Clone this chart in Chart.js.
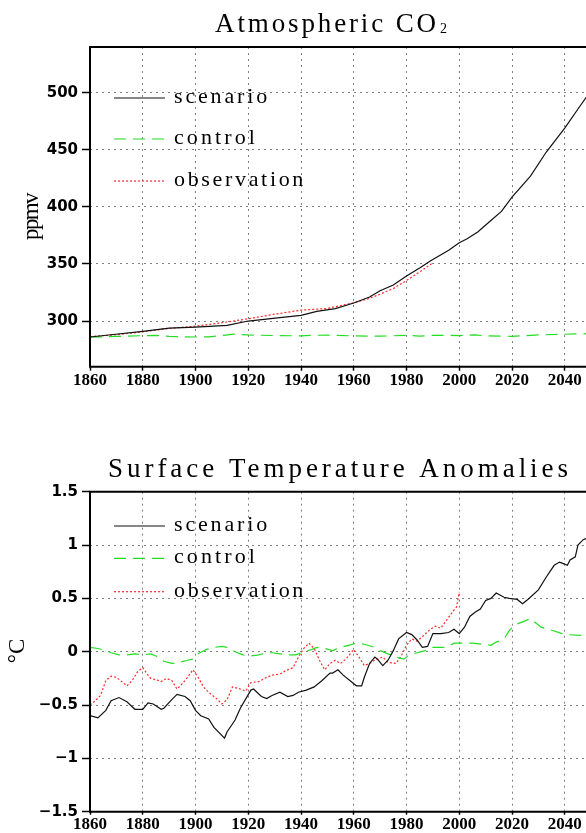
<!DOCTYPE html>
<html>
<head>
<meta charset="utf-8">
<script src="https://cdn.jsdelivr.net/npm/chart.js@4.4.1/dist/chart.umd.min.js"></script>
<style>
  html, body { margin: 0; padding: 0; background: #fff; overflow: hidden; width: 586px; height: 833px; }
  canvas { position: absolute; left: 0; }
  #co2 { top: 0; }
  #temp { top: 440px; }
</style>
</head>
<body>
<canvas id="co2" width="760" height="400"></canvas>
<canvas id="temp" width="760" height="393"></canvas>
<script>
// x axis (years), shared by both panels
const yearTicks = [1860, 1880, 1900, 1920, 1940, 1960, 1980, 2000, 2020, 2040, 2060, 2080, 2100];

// --- Atmospheric CO2 (ppmv) ---
const co2Ticks = [300, 350, 400, 450, 500];
const co2ScenarioYears = [1860, 1868, 1880, 1890, 1900, 1912, 1920, 1932, 1940, 1946,
  1953, 1960, 1966, 1970, 1975, 1980, 1985, 1989, 1996, 2000,
  2003, 2007, 2012, 2016, 2020, 2027, 2033, 2040, 2046, 2050];
const co2Scenario = [286, 288, 291, 293.8, 294.7, 296.2, 300, 302.9, 305, 308.5,
  310.8, 315.8, 321, 326.5, 331.5, 339.5, 346.5, 352.6, 362, 368.5,
  372, 378, 388, 396, 408.5, 427, 448, 469, 489, 502];
const co2ControlYears = [1860, 1870, 1880, 1885, 1890, 1900, 1905, 1915, 1920, 1930,
  1940, 1945, 1950, 1960, 1970, 1980, 1985, 1990, 2000, 2006,
  2010, 2020, 2030, 2040, 2050];
const co2Control = [285.8, 286.5, 287.2, 287.5, 286.5, 286, 286.2, 288.5, 287.8, 287.3,
  287, 287.5, 287.6, 287, 286.7, 287.5, 286.8, 287.5, 287.3, 287.8,
  287, 286.6, 287.8, 288.4, 289];
const co2ObsYears = [1860, 1870, 1880, 1890, 1900, 1910, 1920, 1930, 1940, 1950,
  1960, 1965, 1970, 1975, 1980, 1985, 1990];
const co2Obs = [286.4, 288, 290.5, 293.5, 295.5, 298.5, 302, 306, 309.5, 311,
  316, 319, 323.5, 328.5, 335.5, 343, 351];

// --- Surface temperature anomalies (degC) ---
const tempTicks = [-1.5, -1, -0.5, 0, 0.5, 1, 1.5];
const tempScenarioYears = [1860, 1863, 1866, 1868, 1871, 1874, 1877, 1880, 1882, 1884,
  1887, 1888, 1891, 1893, 1896, 1898, 1900, 1902, 1905, 1907,
  1911, 1912, 1915, 1917, 1921, 1922, 1925, 1927, 1929, 1932,
  1935, 1937, 1939, 1942, 1945, 1948, 1951, 1952, 1954, 1956,
  1959, 1961, 1963, 1964, 1966, 1968, 1969, 1971, 1973, 1975,
  1977, 1980, 1982, 1984, 1986, 1988, 1990, 1993, 1996, 1998,
  2000, 2002, 2004, 2006, 2008, 2010, 2012, 2014, 2017, 2019,
  2022, 2024, 2026, 2030, 2033, 2036, 2038, 2039, 2041, 2042,
  2044, 2045, 2047, 2048, 2050];
const tempScenario = [-0.60, -0.62, -0.55, -0.46, -0.43, -0.47, -0.54, -0.54, -0.48, -0.49,
  -0.54, -0.53, -0.45, -0.40, -0.42, -0.46, -0.55, -0.60, -0.63, -0.71,
  -0.81, -0.75, -0.64, -0.53, -0.36, -0.35, -0.42, -0.44, -0.41, -0.38,
  -0.42, -0.41, -0.38, -0.36, -0.33, -0.27, -0.20, -0.20, -0.17, -0.22,
  -0.28, -0.32, -0.32, -0.24, -0.11, -0.05, -0.07, -0.13, -0.08, 0.01,
  0.12, 0.18, 0.16, 0.11, 0.04, 0.05, 0.17, 0.17, 0.18, 0.21,
  0.17, 0.23, 0.33, 0.37, 0.40, 0.48, 0.50, 0.55, 0.51, 0.50,
  0.49, 0.45, 0.49, 0.58, 0.70, 0.81, 0.84, 0.83, 0.81, 0.86,
  0.89, 1.00, 1.05, 1.06, 1.07];
const tempControlYears = [1860, 1863, 1866, 1868, 1871, 1874, 1877, 1880, 1883, 1885,
  1888, 1891, 1894, 1897, 1899, 1901, 1904, 1907, 1910, 1912,
  1915, 1918, 1921, 1924, 1927, 1929, 1932, 1935, 1938, 1941,
  1944, 1946, 1949, 1952, 1955, 1958, 1961, 1964, 1968, 1970,
  1973, 1976, 1979, 1981, 1984, 1987, 1990, 1995, 1998, 2002,
  2005, 2009, 2012, 2014, 2017, 2019, 2021, 2024, 2027, 2031,
  2034, 2039, 2041, 2048, 2050];
const tempControl = [0.04, 0.03, 0.01, -0.01, -0.03, -0.03, -0.02, -0.03, -0.02, -0.04,
  -0.09, -0.11, -0.10, -0.08, -0.07, -0.02, 0.02, 0.04, 0.05, 0.04,
  0.00, -0.03, -0.04, -0.03, -0.01, -0.01, -0.02, -0.03, -0.03, 0.00,
  0.02, 0.04, 0.03, 0.01, 0.04, 0.06, 0.08, 0.07, 0.04, 0.01,
  -0.02, -0.05, -0.07, -0.03, -0.01, 0.01, 0.04, 0.04, 0.08, 0.08,
  0.08, 0.07, 0.06, 0.09, 0.12, 0.20, 0.25, 0.28, 0.31, 0.23,
  0.21, 0.17, 0.16, 0.15, 0.15];
const tempObsYears = [1860, 1862, 1864, 1866, 1868, 1870, 1872, 1874, 1876, 1878,
  1880, 1882, 1883, 1886, 1887, 1889, 1891, 1893, 1895, 1897,
  1899, 1901, 1903, 1905, 1908, 1910, 1912, 1914, 1917, 1919,
  1921, 1924, 1927, 1929, 1932, 1934, 1937, 1939, 1941, 1943,
  1945, 1947, 1949, 1951, 1953, 1955, 1957, 1960, 1962, 1964,
  1966, 1968, 1971, 1973, 1976, 1978, 1980, 1982, 1984, 1986,
  1989, 1991, 1993, 1995, 1998, 1999, 2000];
const tempObs = [-0.50, -0.46, -0.41, -0.27, -0.23, -0.24, -0.28, -0.32, -0.27, -0.19,
  -0.15, -0.22, -0.25, -0.27, -0.28, -0.25, -0.27, -0.35, -0.30, -0.24,
  -0.17, -0.24, -0.33, -0.38, -0.44, -0.49, -0.45, -0.33, -0.35, -0.37,
  -0.29, -0.28, -0.24, -0.22, -0.21, -0.18, -0.15, -0.05, 0.03, 0.08,
  0.03, -0.08, -0.17, -0.11, -0.08, -0.11, -0.07, 0.02, -0.05, -0.13,
  -0.11, -0.08, -0.05, -0.10, -0.11, -0.04, 0.06, 0.12, 0.10, 0.14,
  0.21, 0.24, 0.22, 0.29, 0.39, 0.42, 0.56];

const SERIF = "'Liberation Serif', 'DejaVu Serif', serif";

function series(label, years, values, color, dash) {
  return {
    label: label,
    data: years.map((x, i) => ({ x: x, y: values[i] })),
    borderColor: color,
    borderWidth: 1.2,
    borderDash: dash,
    pointRadius: 0,
    fill: false,
    tension: 0
  };
}

// serif text stretched to a fixed character pitch, like the plotting package's font
function spaced(ctx, text, x, y, pitch) {
  ctx.letterSpacing = "0px";
  const w = ctx.measureText(text).width;
  ctx.letterSpacing = ((pitch * text.length - w) / text.length) + "px";
  ctx.fillText(text, x, y);
  ctx.letterSpacing = "0px";
  return pitch * text.length;
}

// frame, title, y title and in-plot legend
const decor = {
  id: "decor",
  afterDraw(chart, args, o) {
    const ctx = chart.ctx;
    const a = chart.chartArea;
    ctx.save();
    ctx.setLineDash([]);
    ctx.strokeStyle = "#000";
    ctx.lineWidth = 2;
    ctx.beginPath();
    ctx.moveTo(a.right, a.top);
    ctx.lineTo(a.left, a.top);
    ctx.lineTo(a.left, a.bottom);
    ctx.lineTo(a.right, a.bottom);
    ctx.stroke();

    ctx.fillStyle = "#000";
    ctx.textAlign = "left";
    ctx.textBaseline = "alphabetic";
    ctx.font = "27px " + SERIF;
    const tw = spaced(ctx, o.title, o.titleX, o.titleY, 16);
    if (o.sub) {
      ctx.font = "14px " + SERIF;
      ctx.fillText(o.sub, o.titleX + tw + 1, o.titleY + 1);
    }

    ctx.save();
    ctx.translate(o.yTitleX, o.yTitleY);
    ctx.rotate(-Math.PI / 2);
    ctx.font = "23px " + SERIF;
    ctx.textBaseline = "middle";
    ctx.letterSpacing = "0px";
    const yw = o.yPitch ? o.yPitch * o.yTitle.length : ctx.measureText(o.yTitle).width;
    if (o.yPitch) spaced(ctx, o.yTitle, -yw / 2, 0, o.yPitch);
    else ctx.fillText(o.yTitle, -yw / 2, 0);
    ctx.restore();

    ctx.font = "22px " + SERIF;
    chart.data.datasets.forEach((ds, i) => {
      const y = a.top + o.rows[i];
      ctx.strokeStyle = ds.borderColor;
      ctx.lineWidth = ds.borderWidth;
      ctx.setLineDash(ds.borderDash || []);
      ctx.beginPath();
      ctx.moveTo(114, y);
      ctx.lineTo(165, y);
      ctx.stroke();
      ctx.setLineDash([]);
      ctx.fillStyle = "#000";
      spaced(ctx, ds.label, 174, y + 5, 12);
    });
    ctx.restore();
  }
};

function makeChart(id, datasets, yMin, yMax, yTickVals, yFmt, topPad, xHeight, xTickLen, deco) {
  return new Chart(id, {
    type: "line",
    data: { datasets: datasets },
    plugins: [decor],
    options: {
      responsive: false,
      animation: false,
      layout: { padding: { top: topPad, right: 37, left: 0, bottom: 0 } },
      plugins: { legend: false, title: false, tooltip: false, decor: deco },
      scales: {
        x: {
          type: "linear",
          min: 1860,
          max: 2100,
          afterBuildTicks: s => { s.ticks = yearTicks.map(v => ({ value: v })); },
          afterFit: s => { s.height = xHeight; },
          ticks: {
            autoSkip: false,
            maxRotation: 0,
            padding: 0,
            color: "#000",
            callback: v => String(v),
            font: { family: "'Liberation Serif'", size: 17, weight: "bold" }
          },
          grid: { color: "#808080", lineWidth: 1, tickLength: xTickLen, tickColor: "#000", tickWidth: 1.5 },
          border: { display: false, dash: [2, 4] }
        },
        y: {
          type: "linear",
          min: yMin,
          max: yMax,
          afterBuildTicks: s => { s.ticks = yTickVals.map(v => ({ value: v })); },
          afterFit: s => { s.width = 90; },
          ticks: {
            padding: 4,
            color: "#000",
            callback: yFmt,
            font: { family: "'DejaVu Sans'", size: 15, weight: "bold" }
          },
          grid: { color: "#808080", lineWidth: 1, tickLength: 8, tickColor: "#000", tickWidth: 1.5 },
          border: { display: false, dash: [2, 4] }
        }
      }
    }
  });
}

makeChart("co2", [
  series("scenario", co2ScenarioYears, co2Scenario, "#111111", []),
  series("control", co2ControlYears, co2Control, "#22dd22", [12, 7]),
  series("observation", co2ObsYears, co2Obs, "#ff2a2a", [2, 2])
], 260, 540, co2Ticks, v => String(v), 47, 33.3, 4, {
  title: "Atmospheric CO", sub: "2", titleX: 215, titleY: 32,
  yTitle: "ppmv", yPitch: 11.5, yTitleX: 32, yTitleY: 217,
  rows: [51, 92, 134]
});

makeChart("temp", [
  series("scenario", tempScenarioYears, tempScenario, "#111111", []),
  series("control", tempControlYears, tempControl, "#22dd22", [12, 7]),
  series("observation", tempObsYears, tempObs, "#ff2a2a", [2, 2])
], -1.5, 1.5, tempTicks, v => (v < 0 ? "\u2212" + Math.abs(v) : String(v)), 51.7, 21.3, 3, {
  title: "Surface Temperature Anomalies", titleX: 108, titleY: 36.7,
  yTitle: "\u00b0C", yTitleX: 18, yTitleY: 211,
  rows: [34.3, 66.6, 100]
});
</script>
</body>
</html>
